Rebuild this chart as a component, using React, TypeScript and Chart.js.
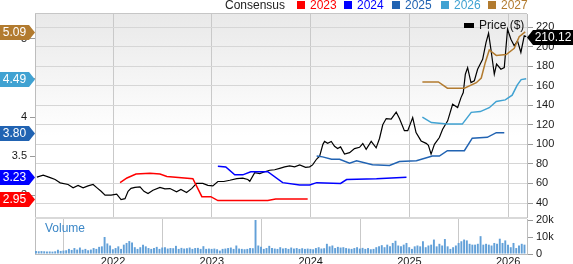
import React, { useEffect, useRef } from 'react';
import { Chart, registerables } from 'chart.js';
Chart.register(...registerables);

const FONT = '"Liberation Sans", Arial, sans-serif';

// x range (decimal years) and year ticks
const xMin = 2021.21;
const xMax = 2026.19;
const yearTicks = [2022, 2023, 2024, 2025, 2026];

// right price axis / left EPS axis / volume axis ticks
const priceTicks = [40, 60, 80, 100, 120, 140, 160, 180, 200, 220];
const epsTicks = [3, 3.5, 4, 4.5, 5];
const volumeTicks = [0, 5, 10, 15, 20];

// Price ($)
const priceDates = [
  2021.229, 2021.293, 2021.364, 2021.414, 2021.444, 2021.465, 2021.545, 2021.596, 2021.646, 2021.697,
  2021.747, 2021.798, 2021.838, 2021.879, 2021.919, 2021.98, 2022.037, 2022.081, 2022.121, 2022.152,
  2022.182, 2022.222, 2022.273, 2022.313, 2022.354, 2022.404, 2022.475, 2022.525, 2022.576, 2022.643,
  2022.687, 2022.744, 2022.798, 2022.845, 2022.909, 2022.96, 2023.01, 2023.061, 2023.121, 2023.182,
  2023.253, 2023.313, 2023.364, 2023.384, 2023.434, 2023.485, 2023.535, 2023.586, 2023.636, 2023.687,
  2023.737, 2023.788, 2023.838, 2023.889, 2023.949, 2023.99, 2024.02, 2024.061, 2024.091, 2024.124,
  2024.141, 2024.172, 2024.209, 2024.242, 2024.273, 2024.303, 2024.343, 2024.394, 2024.444, 2024.495,
  2024.528, 2024.562, 2024.613, 2024.663, 2024.697, 2024.73, 2024.765, 2024.815, 2024.866, 2024.899,
  2024.949, 2024.983, 2025.033, 2025.067, 2025.118, 2025.169, 2025.192, 2025.219, 2025.253, 2025.303,
  2025.336, 2025.387, 2025.437, 2025.488, 2025.522, 2025.545, 2025.566, 2025.589, 2025.623, 2025.657,
  2025.69, 2025.741, 2025.775, 2025.801, 2025.825, 2025.859, 2025.882, 2025.926, 2025.96, 2025.993,
  2026.027, 2026.061, 2026.094, 2026.128, 2026.162, 2026.182,
];
const priceValues = [
  66.5, 68.4, 66, 64, 62, 60.6, 58.9, 55.5, 58, 55.5,
  57.5, 58.9, 55.5, 52, 48, 48, 49, 43.5, 44.5, 52,
  55, 56, 56.5, 52, 49.7, 53, 56, 54.5, 54.8, 51.4,
  53.8, 50.7, 55, 60, 60, 58, 57.5, 62, 62, 63.3,
  65, 65.5, 64, 62.2, 71, 70, 72, 73.5, 74, 75.5,
  77, 78, 77, 79, 76.5, 77, 79, 85, 88, 100,
  103, 101, 103, 98, 95.7, 97.4, 90, 91.5, 95.7, 97,
  100.8, 95, 103, 96.4, 106, 120, 126.4, 125.7, 133, 126.4,
  114, 114, 127.4, 112, 103.5, 101, 99, 90, 100, 107,
  115.4, 124, 141, 137.6, 147.8, 153, 171.7, 178.5, 163.2, 165,
  176.8, 187, 204, 213.6, 197, 171.7, 182, 176.8, 178.5, 217.7,
  207.5, 200.7, 205.8, 194, 211, 210.12,
];

// Consensus EPS estimates
const eps2023Dates = [2022.071, 2022.141, 2022.232, 2022.374, 2022.475, 2022.545, 2022.808, 2022.899, 2022.99, 2023.061, 2023.566, 2023.646, 2023.97];
const eps2023Values = [3.16, 3.22, 3.27, 3.28, 3.27, 3.24, 3.21, 2.98, 2.98, 2.93, 2.93, 2.95, 2.95];

const eps2024Dates = [2023.061, 2023.141, 2023.232, 2023.313, 2023.394, 2023.566, 2023.717, 2023.889, 2023.99, 2024.061, 2024.303, 2024.364, 2024.667, 2024.818, 2024.97];
const eps2024Values = [3.37, 3.36, 3.26, 3.26, 3.3, 3.3, 3.16, 3.13, 3.13, 3.16, 3.15, 3.2, 3.21, 3.22, 3.23];

const eps2025Dates = [2024.061, 2024.121, 2024.212, 2024.293, 2024.394, 2024.465, 2024.626, 2024.798, 2024.899, 2025.071, 2025.232, 2025.303, 2025.384, 2025.556, 2025.636, 2025.788, 2025.879, 2025.96];
const eps2025Values = [3.5, 3.49, 3.46, 3.46, 3.41, 3.44, 3.39, 3.38, 3.43, 3.44, 3.5, 3.5, 3.57, 3.57, 3.73, 3.74, 3.8, 3.8];

const eps2026Dates = [2025.131, 2025.222, 2025.384, 2025.535, 2025.626, 2025.717, 2025.808, 2025.879, 2025.97, 2026.04, 2026.091, 2026.131, 2026.182];
const eps2026Values = [4.0, 3.93, 3.91, 3.91, 4.06, 4.07, 4.12, 4.2, 4.22, 4.28, 4.41, 4.48, 4.49];

const eps2027Dates = [2025.131, 2025.293, 2025.384, 2025.556, 2025.677, 2025.727, 2025.768, 2025.808, 2025.879, 2025.98, 2026.061, 2026.111, 2026.172];
const eps2027Values = [4.45, 4.45, 4.37, 4.37, 4.44, 4.5, 4.7, 4.86, 4.79, 4.8, 4.88, 5.03, 5.09];

// Volume (thousands), one bar every 1/36 year from volumeStart
const volumeStart = 2021.22;
const volumeStep = 1 / 36;
const volumeValues = [
  1.8, 1.6, 1.7, 1.6, 1.5, 1.5, 1.4, 1.6, 2.5, 1.8, 2.0, 2.2, 3.0, 2.4, 3.5, 2.6, 3.8, 2.5, 3.0, 2.2,
  2.6, 3.5, 3.0, 4.2, 4.5, 10.0, 6.2, 5.0,
  2.8, 3.5, 4.5, 3.0, 5.5, 6.5, 7.6, 6.8, 4.0, 3.0, 4.0, 5.5, 4.5, 3.5, 3.0, 3.5, 4.2, 3.0, 3.8, 4.0,
  3.2, 3.5, 3.4, 4.8, 3.0, 3.6, 3.2, 3.4, 3.8, 3.0, 3.5, 3.6, 3.0, 4.6, 3.0, 3.2,
  3.0, 3.2, 2.8, 2.0, 3.0, 3.2, 3.5, 3.8, 3.0, 5.0, 3.2, 3.0, 2.8, 3.0, 3.5, 3.4, 20.0, 5.0, 4.2, 3.0,
  3.5, 4.8, 3.5, 3.2, 3.0, 4.0, 3.3, 3.5, 3.0, 3.8, 3.2, 3.5, 3.0, 3.4, 3.0, 3.2,
  3.0, 2.8, 3.5, 4.0, 3.2, 3.4, 6.0, 4.5, 5.0, 3.5, 4.2, 3.8, 4.0, 3.5, 3.2, 3.0, 3.5, 4.0, 3.2, 3.6,
  3.0, 3.5, 2.8, 3.0, 4.0, 4.5, 5.2, 4.0, 5.5, 4.5, 6.5, 7.8, 5.0, 4.5, 5.5, 6.5,
  4.0, 3.0, 4.5, 5.0, 4.5, 7.5, 4.0, 5.0, 5.5, 8.5, 4.5, 6.0, 5.0, 8.8, 4.5, 3.0, 4.0, 5.0, 6.5, 7.5,
  8.5, 8.0, 6.0, 5.5, 5.5, 6.0, 10.5, 5.5, 6.0, 5.5, 5.0, 6.5, 6.0, 9.0, 6.5, 8.0,
  5.5, 4.0, 6.5, 3.5, 5.0, 6.0, 5.5,
];

const C2023 = '#ff0000';
const C2024 = '#0000ff';
const C2025 = '#2163b2';
const C2026 = '#40a2d2';
const C2027 = '#b27b2f';

const legendItems = [
  { label: '2023', color: C2023 },
  { label: '2024', color: C2024 },
  { label: '2025', color: C2025 },
  { label: '2026', color: C2026 },
  { label: '2027', color: C2027 },
];

const last = (a: number[]) => a[a.length - 1];
const toPts = (xs: number[], ys: number[]) => xs.map((x, i) => ({ x, y: ys[i] }));
const setTicks = (vals: number[]) => (s: any) => {
  s.ticks = vals.map((v) => ({ value: v }));
};
const fitW = (w: number) => (s: any) => {
  s.width = w;
  s.paddingTop = 0;
  s.paddingBottom = 0;
};
const fitH = (h: number) => (s: any) => {
  s.height = h;
  s.paddingLeft = 0;
  s.paddingRight = 0;
};

const bgPlugin = {
  id: 'bgGradient',
  beforeDraw(chart: any) {
    const { ctx, chartArea } = chart;
    if (!chartArea) return;
    const g = ctx.createLinearGradient(0, chartArea.top, 0, chartArea.bottom);
    g.addColorStop(0, '#e9e9e9');
    g.addColorStop(0.6, '#ffffff');
    g.addColorStop(1, '#ffffff');
    ctx.save();
    ctx.fillStyle = g;
    ctx.fillRect(chartArea.left, chartArea.top, chartArea.right - chartArea.left, chartArea.bottom - chartArea.top);
    ctx.restore();
  },
};

const badgePlugin = {
  id: 'badges',
  afterDraw(chart: any) {
    const { ctx, scales } = chart;
    const eps = scales.eps;
    const price = scales.price;
    const h = 7.5;
    ctx.save();
    ctx.font = '12px ' + FONT;
    ctx.textAlign = 'center';
    ctx.textBaseline = 'middle';
    const epsBadges = [
      { v: last(eps2027Values), c: C2027 },
      { v: last(eps2026Values), c: C2026 },
      { v: last(eps2025Values), c: C2025 },
      { v: last(eps2024Values), c: C2024 },
      { v: last(eps2023Values), c: C2023 },
    ];
    const L = eps.right;
    epsBadges.forEach((b) => {
      const y = Math.round(eps.getPixelForValue(b.v)) + 0.5;
      ctx.fillStyle = b.c;
      ctx.beginPath();
      ctx.moveTo(0, y - h);
      ctx.lineTo(L - 6, y - h);
      ctx.lineTo(L, y);
      ctx.lineTo(L - 6, y + h);
      ctx.lineTo(0, y + h);
      ctx.closePath();
      ctx.fill();
      ctx.fillStyle = '#ffffff';
      ctx.fillText(b.v.toFixed(2), 14.5, y + 0.5);
    });
    const pv = last(priceValues);
    const py = Math.round(price.getPixelForValue(pv)) + 0.5;
    const R = price.left;
    const W = chart.width;
    ctx.fillStyle = '#000000';
    ctx.beginPath();
    ctx.moveTo(R, py);
    ctx.lineTo(R + 6, py - h);
    ctx.lineTo(W, py - h);
    ctx.lineTo(W, py + h);
    ctx.lineTo(R + 6, py + h);
    ctx.closePath();
    ctx.fill();
    ctx.fillStyle = '#ffffff';
    ctx.fillText(pv.toFixed(2), (R + 6 + W) / 2, py + 0.5);
    ctx.restore();
  },
};

export default function App() {
  const mainRef = useRef<HTMLCanvasElement>(null);
  const volRef = useRef<HTMLCanvasElement>(null);

  useEffect(() => {
    document.body.style.margin = '0';
    Chart.defaults.font.family = FONT;
    Chart.defaults.font.size = 11;
    Chart.defaults.color = '#1a1a1a';

    const lineDs = (label: string, xs: number[], ys: number[], color: string, axis: string, w: number) => ({
      type: 'line' as const,
      label,
      data: toPts(xs, ys),
      yAxisID: axis,
      borderColor: color,
      borderWidth: w,
      pointRadius: 0,
      tension: 0,
      fill: false,
    });

    const main = new Chart(mainRef.current!, {
      type: 'line',
      data: {
        datasets: [
          lineDs('2023', eps2023Dates, eps2023Values, C2023, 'eps', 1.5),
          lineDs('2024', eps2024Dates, eps2024Values, C2024, 'eps', 1.5),
          lineDs('2025', eps2025Dates, eps2025Values, C2025, 'eps', 1.5),
          lineDs('2026', eps2026Dates, eps2026Values, C2026, 'eps', 1.5),
          lineDs('2027', eps2027Dates, eps2027Values, C2027, 'eps', 1.5),
          lineDs('Price ($)', priceDates, priceValues, '#000000', 'price', 1.2),
        ],
      },
      options: {
        responsive: false,
        animation: false,
        devicePixelRatio: 1,
        layout: { padding: { top: 14, bottom: 1, left: 0, right: 0 } },
        plugins: { legend: { display: false }, tooltip: { enabled: false } },
        scales: {
          x: {
            type: 'linear',
            min: xMin,
            max: xMax,
            afterBuildTicks: setTicks(yearTicks),
            ticks: { display: false },
            grid: { color: '#c9c9c9', drawTicks: false },
            border: { display: false },
            afterFit: fitH(0),
          },
          eps: {
            type: 'linear',
            position: 'left',
            min: 2.72,
            max: 5.32,
            afterBuildTicks: setTicks(epsTicks),
            ticks: { padding: 3, color: '#1a1a1a', callback: (v: any) => String(v) },
            grid: { drawOnChartArea: false, tickLength: 5, tickColor: '#9a9a9a' },
            border: { color: '#bdbdbd' },
            afterFit: fitW(35),
          },
          price: {
            type: 'linear',
            position: 'right',
            min: 25.7,
            max: 233.3,
            afterBuildTicks: setTicks(priceTicks),
            ticks: { padding: 3, color: '#1a1a1a', callback: (v: any) => String(v) },
            grid: { color: '#d6d6d6', tickLength: 6, tickColor: '#9a9a9a' },
            border: { color: '#bdbdbd' },
            afterFit: fitW(46),
          },
        },
      } as any,
      plugins: [bgPlugin, badgePlugin],
    });

    const vol = new Chart(volRef.current!, {
      type: 'bar',
      data: {
        datasets: [
          {
            label: 'Volume',
            data: volumeValues.map((v, i) => ({ x: volumeStart + i * volumeStep, y: v })),
            backgroundColor: '#62a0d8',
            barPercentage: 0.7,
            categoryPercentage: 1,
            yAxisID: 'vol',
          } as any,
        ],
      },
      options: {
        responsive: false,
        animation: false,
        devicePixelRatio: 1,
        layout: { padding: { top: 14, bottom: 0, left: 0, right: 0 } },
        plugins: { legend: { display: false }, tooltip: { enabled: false } },
        scales: {
          x: {
            type: 'linear',
            min: xMin,
            max: xMax,
            offset: false,
            afterBuildTicks: setTicks(yearTicks),
            ticks: { padding: 1, color: '#1a1a1a', callback: (v: any) => String(Math.round(v)) },
            grid: { color: '#c9c9c9', drawTicks: false },
            border: { color: '#bdbdbd' },
            afterFit: fitH(10),
          },
          lft: {
            type: 'linear',
            position: 'left',
            ticks: { display: false },
            grid: { display: false, drawTicks: false },
            border: { color: '#bdbdbd' },
            afterFit: fitW(35),
          },
          vol: {
            type: 'linear',
            position: 'right',
            min: 0,
            max: 20.6,
            afterBuildTicks: setTicks(volumeTicks),
            ticks: { padding: 3, color: '#1a1a1a', callback: (v: any) => (v === 0 ? '0' : v + 'k') },
            grid: { drawOnChartArea: false, tickLength: 6, tickColor: '#9a9a9a' },
            border: { color: '#bdbdbd' },
            afterFit: fitW(46),
          },
        },
      } as any,
    });

    return () => {
      main.destroy();
      vol.destroy();
    };
  }, []);

  const legendX = [297, 344, 392, 441, 488];
  return (
    <div style={{ position: 'fixed', left: 0, top: 0, width: 573, height: 264, background: '#ffffff', overflow: 'hidden', fontFamily: FONT }}>
      <canvas ref={mainRef} width={573} height={218} style={{ position: 'absolute', left: 0, top: 0, width: 573, height: 218 }} />
      <canvas ref={volRef} width={573} height={59} style={{ position: 'absolute', left: 0, top: 205, width: 573, height: 59 }} />
      <div style={{ position: 'absolute', left: 35, top: 13, width: 492, height: 1, background: '#c6c6c6' }} />
      <div style={{ position: 'absolute', left: 35, top: 217, width: 492, height: 2, background: '#d9d9d9' }} />
      <div style={{ position: 'absolute', left: 225, top: -1, fontSize: 12, lineHeight: '12px', color: '#222', whiteSpace: 'nowrap' }}>Consensus</div>
      {legendItems.map((it, i) => (
        <React.Fragment key={it.label}>
          <div style={{ position: 'absolute', left: legendX[i], top: 1, width: 8, height: 8, background: it.color }} />
          <div style={{ position: 'absolute', left: legendX[i] + 13, top: -1, fontSize: 12, lineHeight: '12px', color: it.color, whiteSpace: 'nowrap' }}>{it.label}</div>
        </React.Fragment>
      ))}
      <div style={{ position: 'absolute', left: 464, top: 23, width: 10, height: 5, background: '#000' }} />
      <div style={{ position: 'absolute', left: 479, top: 19, fontSize: 12, lineHeight: '12px', color: '#111', whiteSpace: 'nowrap' }}>Price ($)</div>
      <div style={{ position: 'absolute', left: 45, top: 222, fontSize: 12, lineHeight: '12px', color: '#3b87c7', whiteSpace: 'nowrap' }}>Volume</div>
    </div>
  );
}
